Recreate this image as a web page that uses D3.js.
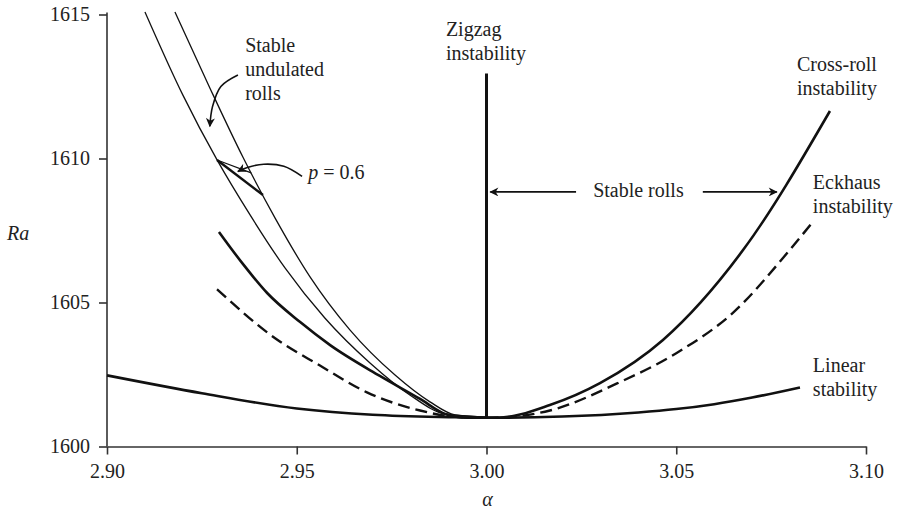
<!DOCTYPE html>
<html>
<head>
<meta charset="utf-8">
<script src="https://cdn.jsdelivr.net/npm/d3@7"></script>
<style>
    body { margin: 0; background: #fff; }
    text { font-family: "Liberation Serif", "Times New Roman", serif; fill: #222; }
</style>
</head>
<body>
<script>
//stability diagram for convection rolls (Ra vs alpha)

//tick labels
var xTicks = [2.90, 2.95, 3.00, 3.05, 3.10];
var yTicks = [1600, 1605, 1610, 1615];

//curves, [alpha, Ra]
var linearStability = [[2.90,1602.47],[2.925,1601.85],[2.95,1601.32],[2.97,1601.1],[2.99,1601.02],[3.00,1601.0],[3.02,1601.04],[3.04,1601.18],[3.05,1601.3],[3.06,1601.47],[3.07,1601.7],[3.0826,1602.05]];
var crossRoll = [[2.9295,1607.45],[2.9358,1606.34],[2.9422,1605.33],[2.9509,1604.32],[2.9588,1603.52],[2.9719,1602.45],[2.9825,1601.65],[2.9891,1601.13],[2.995,1601.0],[3.003,1601.0],[3.0167,1601.44],[3.0299,1602.2],[3.0465,1603.7],[3.0676,1606.82],[3.0905,1611.65]];
var eckhaus = [[2.929,1605.46],[2.9443,1603.76],[2.956,1602.82],[2.9685,1601.88],[2.9825,1601.25],[2.992,1601.03],[3.0,1601.0],[3.008,1601.05],[3.0167,1601.25],[3.0344,1602.19],[3.050,1603.24],[3.065,1604.65],[3.080,1606.84],[3.086,1607.8]];
var undulatedLeft = [[2.9100,1615.09],[2.9200,1612.20],[2.9290,1609.95],[2.9377,1608.04],[2.9469,1606.20],[2.9574,1604.46],[2.9693,1602.90],[2.9798,1601.79],[2.9891,1601.13],[3.000,1601.02]];
var undulatedRight = [[2.9179,1615.09],[2.9271,1612.45],[2.9358,1610.05],[2.9443,1607.93],[2.9535,1605.89],[2.9640,1604.05],[2.9759,1602.48],[2.9851,1601.55],[2.9917,1601.10],[3.000,1601.02]];
var p06 = [[2.9290,1609.95],[2.9411,1608.73]];
var p06Edge = [[2.9290,1609.95],[2.9380,1609.5]];
var zigzag = [[3.00,1601.0],[3.00,1612.95]];

//annotation arrows, [alpha, Ra]
var arrowUndulated = [[2.9345,1612.9],[2.9300,1612.5],[2.9278,1611.8],[2.9271,1611.12]];
var arrowP = [[2.9514,1609.38],[2.9466,1609.73],[2.9413,1609.8],[2.9370,1609.69],[2.9345,1609.55]];
var arrowRollsLeft = [[3.0236,1608.84],[3.0010,1608.84]];
var arrowRollsRight = [[3.0570,1608.84],[3.0765,1608.84]];

//labels: first baseline at [alpha, Ra]
var labelText = [["Stable","undulated","rolls"],["Zigzag","instability"],["Cross-roll","instability"],["Stable rolls"],["Eckhaus","instability"],["Linear","stability"]];
var labelAlpha = [2.9364, 2.9893, 3.0818, 3.0281, 3.0860, 3.0860];
var labelRa = [1613.70, 1614.25, 1613.03, 1608.68, 1608.93, 1602.59];

window.onload = drawChart();

function drawChart(){

    var width = 902;
    var height = 512;

    var svg = d3.select("body")
        .append("svg")
        .attr("width", width)
        .attr("height", height);

    var x = d3.scaleLinear().domain([2.90, 3.10]).range([107, 866]);
    var y = d3.scaleLinear().domain([1600, 1615]).range([446.5, 14.5]);

    //arrowhead marker
    svg.append("defs").append("marker")
        .attr("id", "head")
        .attr("viewBox", "0 0 10 10")
        .attr("refX", 9)
        .attr("refY", 5)
        .attr("markerWidth", 11)
        .attr("markerHeight", 9)
        .attr("markerUnits", "userSpaceOnUse")
        .attr("orient", "auto")
        .append("path")
        .attr("d", "M0,0 L10,5 L0,10 L3,5 Z")
        .style("fill", "#111");

    //axes
    var xAxis = d3.axisBottom(x)
        .tickValues(xTicks)
        .tickFormat(d3.format(".2f"))
        .tickSizeInner(8)
        .tickSizeOuter(0)
        .tickPadding(9);
    var yAxis = d3.axisLeft(y)
        .tickValues(yTicks)
        .tickFormat(d3.format("d"))
        .tickSizeInner(8)
        .tickSizeOuter(0)
        .tickPadding(9);

    var gx = svg.append("g")
        .attr("transform", "translate(0," + y(1600) + ")")
        .call(xAxis);
    var gy = svg.append("g")
        .attr("transform", "translate(" + x(2.90) + ",0)")
        .call(yAxis);

    [gx, gy].forEach(function(g){
        g.selectAll("path, line")
            .style("stroke", "#333")
            .style("stroke-width", "1.6px");
        g.selectAll("text")
            .style("font-size", "20px")
            .style("font-family", "Liberation Serif, serif")
            .style("fill", "#222");
    });
    gy.select(".domain").attr("d", "M0," + y(1600) + "V" + (y(1615) - 2));

    //axis titles
    svg.append("text")
        .attr("x", 7)
        .attr("y", 240)
        .style("font-size", "20px")
        .style("font-style", "italic")
        .text("Ra");
    svg.append("text")
        .attr("x", x(3.00) + 1)
        .attr("y", 506)
        .attr("text-anchor", "middle")
        .style("font-size", "20px")
        .style("font-style", "italic")
        .text("\u03b1");

    //line generators
    var line = d3.line()
        .x(function(d){ return x(d[0]); })
        .y(function(d){ return y(d[1]); })
        .curve(d3.curveMonotoneX);
    var straight = d3.line()
        .x(function(d){ return x(d[0]); })
        .y(function(d){ return y(d[1]); });
    var smooth = d3.line()
        .x(function(d){ return x(d[0]); })
        .y(function(d){ return y(d[1]); })
        .curve(d3.curveCatmullRom);

    function drawLine(data, gen, w, dash){
        svg.append("path")
            .datum(data)
            .attr("d", gen)
            .style("fill", "none")
            .style("stroke", "#111")
            .style("stroke-width", w + "px")
            .style("stroke-dasharray", dash || null)
            .style("stroke-linejoin", "round");
    }

    drawLine(undulatedLeft, line, 1.3);
    drawLine(undulatedRight, line, 1.3);
    drawLine(linearStability, line, 2.6);
    drawLine(crossRoll, line, 2.6);
    drawLine(eckhaus, line, 2.4, "12,6");
    drawLine(zigzag, straight, 3);
    drawLine(p06, straight, 2.4);
    drawLine(p06Edge, straight, 1.2);

    //arrows
    [arrowUndulated, arrowP, arrowRollsLeft, arrowRollsRight].forEach(function(a){
        svg.append("path")
            .datum(a)
            .attr("d", smooth)
            .style("fill", "none")
            .style("stroke", "#111")
            .style("stroke-width", "1.6px")
            .attr("marker-end", "url(#head)");
    });

    //labels
    labelText.forEach(function(lines, i){
        var t = svg.append("text")
            .attr("x", x(labelAlpha[i]))
            .attr("y", y(labelRa[i]))
            .style("font-size", "20px");
        lines.forEach(function(s, j){
            t.append("tspan")
                .attr("x", x(labelAlpha[i]))
                .attr("dy", j == 0 ? 0 : 24)
                .text(s);
        });
    });

    //p = 0.6 label
    var pl = svg.append("text")
        .attr("x", x(2.953))
        .attr("y", y(1609.28))
        .style("font-size", "20px");
    pl.append("tspan").style("font-style", "italic").text("p");
    pl.append("tspan").text(" = 0.6");
};
</script>
</body>
</html>
